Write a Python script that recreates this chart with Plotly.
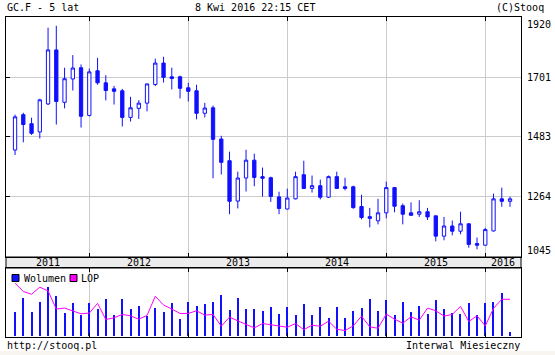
import plotly.graph_objects as go

# ---- data (monthly, Apr 2011 .. Apr 2016) ----
months = ["2011-04","2011-05","2011-06","2011-07","2011-08","2011-09","2011-10","2011-11","2011-12",
          "2012-01","2012-02","2012-03","2012-04","2012-05","2012-06","2012-07","2012-08","2012-09","2012-10","2012-11","2012-12",
          "2013-01","2013-02","2013-03","2013-04","2013-05","2013-06","2013-07","2013-08","2013-09","2013-10","2013-11","2013-12",
          "2014-01","2014-02","2014-03","2014-04","2014-05","2014-06","2014-07","2014-08","2014-09","2014-10","2014-11","2014-12",
          "2015-01","2015-02","2015-03","2015-04","2015-05","2015-06","2015-07","2015-08","2015-09","2015-10","2015-11","2015-12",
          "2016-01","2016-02","2016-03","2016-04"]

open_ = [1435,1564,1531,1501,1603,1800,1609,1694,1735,
         1561,1724,1680,1658,1651,1554,1587,1606,1674,1752,1702,1702,
         1662,1651,1569,1589,1475,1396,1249,1333,1398,1338,1334,1264,
         1220,1257,1345,1295,1305,1263,1338,1301,1301,1229,1192,1177,
         1206,1298,1232,1206,1201,1210,1195,1121,1158,1139,1166,1094,
         1088,1140,1257,1248]
high = [1564,1571,1553,1622,1881,1888,1735,1781,1747,
        1732,1771,1708,1669,1658,1629,1617,1677,1768,1775,1735,1706,
        1680,1673,1607,1597,1487,1429,1356,1436,1422,1371,1338,1283,
        1294,1356,1396,1342,1327,1342,1356,1334,1305,1272,1224,1257,
        1320,1300,1240,1244,1252,1224,1197,1191,1178,1210,1168,1116,
        1151,1276,1298,1265]
low = [1417,1463,1490,1477,1599,1528,1587,1652,1517,
       1558,1673,1616,1601,1521,1539,1548,1576,1668,1681,1656,1623,
       1612,1547,1554,1332,1346,1201,1222,1284,1303,1265,1246,1201,
       1218,1255,1293,1280,1255,1260,1293,1288,1221,1182,1153,1164,
       1186,1208,1164,1195,1191,1180,1102,1106,1124,1128,1079,1073,
       1086,1138,1228,1228]
close = [1556,1528,1496,1618,1800,1612,1695,1734,1558,
         1720,1680,1652,1649,1554,1589,1606,1676,1752,1700,1696,1660,
         1649,1569,1588,1474,1390,1248,1333,1398,1335,1332,1266,1222,
         1260,1338,1295,1305,1263,1338,1295,1295,1225,1189,1186,1206,
         1298,1230,1201,1197,1210,1191,1121,1158,1139,1166,1091,1088,
         1145,1257,1248,1257]

volume = [71,114,71,101,146,119,68,98,62,
          98,80,110,62,110,80,89,59,83,71,98,50,
          101,89,95,101,122,77,113,80,80,74,86,65,
          86,62,95,62,86,53,86,53,74,83,110,74,
          107,62,101,71,89,65,107,80,68,65,98,62,
          98,101,128,11]
lop = [157,132,124,145,134,80,83,74,66,
       68,97,49,54,64,60,50,61,118,92,80,67,
       67,75,62,64,29,56,45,35,24,37,34,31,
       26,37,19,32,29,44,20,16,30,59,27,23,
       65,50,38,57,47,83,75,59,64,88,43,60,
       30,82,109,109]

price_ticks = [1045, 1264, 1483, 1701, 1920]
year_labels = ["2011", "2012", "2013", "2014", "2015", "2016"]

# ---- derived positions ----
idx = list(range(len(months)))
year_starts = [i for i, m in enumerate(months) if m.endswith("-01")]
W, H = 555, 355
XR = [-1.097, 61.33]
bounds = [XR[0]] + year_starts + [XR[1]]
year_pos = [(bounds[i] + bounds[i + 1]) / 2 for i in range(len(year_labels))]

BLUE = "#1010ff"
FONT = "DejaVu Sans Mono"

def py(px):  # pixel from top -> paper fraction
    return (H - px) / H

def pxx(px):
    return px / W

main_dom = [py(257), py(17)]
low_dom = [py(337), py(268)]
xdom = [pxx(6), pxx(521)]

fig = go.Figure()
fig.add_trace(go.Candlestick(
    x=idx, open=open_, high=high, low=low, close=close,
    increasing=dict(line=dict(color=BLUE, width=1), fillcolor="white"),
    decreasing=dict(line=dict(color=BLUE, width=1), fillcolor=BLUE),
    whiskerwidth=0, xaxis="x", yaxis="y", showlegend=False, hoverinfo="skip"))
fig.add_trace(go.Bar(x=idx, y=volume, width=0.13, marker=dict(color=BLUE, line=dict(width=0)),
                     xaxis="x2", yaxis="y2", showlegend=False, hoverinfo="skip"))
fig.add_trace(go.Scatter(x=idx, y=lop, mode="lines", line=dict(color="#ff00ff", width=1),
                         xaxis="x2", yaxis="y2", showlegend=False, hoverinfo="skip"))

axcommon = dict(range=XR, domain=xdom, tickvals=year_starts, showticklabels=False,
                ticks="inside", ticklen=4, tickcolor="black", showline=True, linecolor="black",
                linewidth=1, mirror="ticks", showgrid=True, gridcolor="#cccccc", gridwidth=1,
                zeroline=False, fixedrange=True)

annotations = []
for lbl, p in zip(year_labels, year_pos):
    annotations.append(dict(x=p, xref="x", y=py(262.5), yref="paper", text=lbl, showarrow=False,
                            font=dict(family=FONT, size=10, color="black"), xanchor="center", yanchor="middle"))
for t in price_ticks:
    shift = -7 if t == max(price_ticks) else (7 if t == min(price_ticks) else 0)
    annotations.append(dict(x=pxx(525), xref="paper", y=t, yref="y", text=str(t), showarrow=False,
                            yshift=shift, font=dict(family=FONT, size=10, color="black"),
                            xanchor="left", yanchor="middle"))
txt = dict(showarrow=False, font=dict(family=FONT, size=10, color="black"), yanchor="middle")
annotations += [
    dict(x=pxx(5), xref="paper", y=py(8), yref="paper", text="GC.F - 5 lat", xanchor="left", **txt),
    dict(x=pxx(255), xref="paper", y=py(8), yref="paper", text="8 Kwi 2016 22:15 CET", xanchor="center", **txt),
    dict(x=pxx(546), xref="paper", y=py(8), yref="paper", text="(C)Stooq", xanchor="right", **txt),
    dict(x=pxx(5), xref="paper", y=py(345), yref="paper", text="http://stooq.pl", xanchor="left", **txt),
    dict(x=pxx(522), xref="paper", y=py(345), yref="paper", text="Interwal Miesieczny", xanchor="right", **txt),
    dict(x=pxx(22), xref="paper", y=py(278), yref="paper", text="Wolumen", xanchor="left", **txt),
    dict(x=pxx(79), xref="paper", y=py(278), yref="paper", text="LOP", xanchor="left", **txt),
]

shapes = [
    dict(type="rect", xref="paper", yref="paper", x0=xdom[0], x1=xdom[1], y0=py(268), y1=py(257),
         fillcolor="#ececec", line=dict(color="black", width=1), layer="below"),
    dict(type="rect", xref="paper", yref="paper", x0=pxx(12), x1=pxx(19), y0=py(281.5), y1=py(274.5),
         fillcolor=BLUE, line=dict(color="black", width=1)),
    dict(type="rect", xref="paper", yref="paper", x0=pxx(70), x1=pxx(77), y0=py(281.5), y1=py(274.5),
         fillcolor="#ff00ff", line=dict(color="black", width=1)),
    dict(type="rect", xref="paper", yref="paper", x0=0, x1=1, y0=0, y1=py(351),
         fillcolor="#f8f4f0", line=dict(width=0), layer="below"),
]

fig.update_layout(
    width=W, height=H, margin=dict(l=0, r=0, t=0, b=0),
    paper_bgcolor="white", plot_bgcolor="white",
    boxgap=0.6, boxgroupgap=0.0, bargap=0,
    xaxis=dict(anchor="y", rangeslider=dict(visible=False), **axcommon),
    xaxis2=dict(anchor="y2", **axcommon),
    yaxis=dict(domain=main_dom, range=[1045, 1920], tickvals=price_ticks, showticklabels=False,
               ticks="inside", ticklen=4, tickcolor="black", showline=True, linecolor="black",
               linewidth=1, mirror=True, showgrid=True, gridcolor="#cccccc", zeroline=False,
               fixedrange=True, anchor="x"),
    yaxis3=dict(overlaying="y", side="right", anchor="x", range=[1045, 1920], tickvals=price_ticks,
                showticklabels=False, ticks="outside", ticklen=4, tickcolor="black",
                showgrid=False, showline=False, zeroline=False, fixedrange=True),
    yaxis2=dict(domain=low_dom, range=[-3, 202], showticklabels=False, ticks="", showgrid=False,
                showline=True, linecolor="black", linewidth=1, mirror=True, zeroline=False,
                fixedrange=True, anchor="x2"),
    annotations=annotations, shapes=shapes, showlegend=False,
)

fig.write_html("out.html", config={"displayModeBar": False},
               post_script="document.body.style.margin='0';document.body.style.padding='0';")
